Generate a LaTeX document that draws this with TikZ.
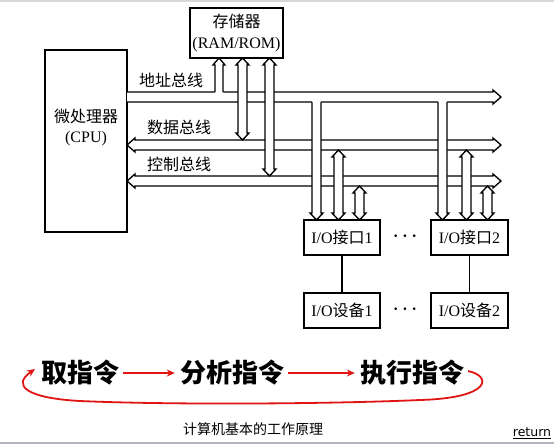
\documentclass[tikz,border=0pt]{standalone}
\usepackage{fontspec}
\setmainfont{Liberation Serif}
\newfontfamily\cjk{Noto Sans CJK SC}
\newfontfamily\retfont{DejaVu Sans}
\usetikzlibrary{arrows.meta}
\definecolor{flowred}{RGB}{225,20,20}
\definecolor{topgray}{RGB}{215,215,215}
\definecolor{botgray}{RGB}{180,180,192}
% vertical double arrow: xl xr ytop ybot
\newcommand\VDarrow[4]{%
  \filldraw[busline] (#1,#3+7) -- (#1-2,#3+7) -- ({(#1+#2)/2},#3) -- (#2+2,#3+7) -- (#2,#3+7)
    -- (#2,#4-7) -- (#2+2,#4-7) -- ({(#1+#2)/2},#4) -- (#1-2,#4-7) -- (#1,#4-7) -- cycle;}
% T arrow up: xl xr ytop ybus ymid
\newcommand\UParrow[5]{%
  \fill[white] (#1,#5) -- (#1,#3+7) -- (#1-2,#3+7) -- ({(#1+#2)/2},#3) -- (#2+2,#3+7) -- (#2,#3+7) -- (#2,#5) -- cycle;
  \draw[busline] (#1,#4) -- (#1,#3+7) -- (#1-2,#3+7) -- ({(#1+#2)/2},#3) -- (#2+2,#3+7) -- (#2,#3+7) -- (#2,#4);}
% T arrow down: xl xr ybus ybot ymid
\newcommand\DNarrow[5]{%
  \fill[white] (#1,#5) -- (#1,#4-7) -- (#1-2,#4-7) -- ({(#1+#2)/2},#4) -- (#2+2,#4-7) -- (#2,#4-7) -- (#2,#5) -- cycle;
  \draw[busline] (#1,#3) -- (#1,#4-7) -- (#1-2,#4-7) -- ({(#1+#2)/2},#4) -- (#2+2,#4-7) -- (#2,#4-7) -- (#2,#3);}
\newcommand\threedots{\textbf{\textperiodcentered}\hspace{4pt}\textbf{\textperiodcentered}\hspace{4pt}\textbf{\textperiodcentered}}
\begin{document}
\begin{tikzpicture}[x=1pt,y=-1pt,
  busline/.style={draw=black,fill=white,line width=1.35pt,line join=miter},
  box/.style={draw=black,line width=1.35pt,inner sep=0pt,fill=white},
  lbl/.style={font=\fontsize{16}{20}\selectfont,inner sep=0pt},
  big/.style={font=\fontsize{26}{30}\selectfont\cjk\bfseries,inner sep=0pt},
  redarrow/.style={draw=flowred,line width=1.8pt,-{Stealth[length=8pt,width=7pt]}}]
\useasboundingbox (0,0) rectangle (554,444);
\fill[white] (0,0) rectangle (554,444);
\fill[topgray] (0,0) rectangle (554,2);
\fill[botgray] (0,441.5) rectangle (554,443.5);

% boxes
\node[box,minimum width=82pt,minimum height=182pt] (cpu) at (86,141) {};
\node[lbl,align=center] (cpulbl) at (86,127) {{\cjk 微处理器}\\(CPU)};
\node[box,minimum width=93pt,minimum height=50pt,align=center,
  font=\fontsize{16}{21}\selectfont] (mem) at (236.5,33) {{\cjk 存储器}\\(RAM/ROM)};

% buses
\filldraw[busline] (127,92) -- (493,92) -- (493,90) -- (501,97) -- (493,104) -- (493,102) -- (127,102);
\filldraw[busline] (135,140) -- (493,140) -- (493,138) -- (501,145) -- (493,152) -- (493,150)
  -- (135,150) -- (135,152) -- (127,145) -- (135,138) -- cycle;
\filldraw[busline] (135,176) -- (493,176) -- (493,174) -- (501,181) -- (493,188) -- (493,186)
  -- (135,186) -- (135,188) -- (127,181) -- (135,174) -- cycle;

\node[lbl] (abus) at (171,80) {\cjk 地址总线};
\node[lbl] (dbus) at (179,127) {\cjk 数据总线};
\node[lbl] (cbus) at (179,164) {\cjk 控制总线};

% memory connections
\VDarrow{238}{247}{58}{140}
\VDarrow{265}{274}{58}{176}
\UParrow{215}{223}{58}{92}{97}

% I/O connections
\DNarrow{312}{321}{102}{220}{97}
\VDarrow{334}{343}{150}{220}
\VDarrow{355}{364}{186}{220}
\DNarrow{438}{447}{102}{220}{97}
\VDarrow{462}{471}{150}{220}
\VDarrow{483}{492}{186}{220}

% I/O boxes
\node[box,minimum width=76pt,minimum height=35pt,lbl] (io1) at (342,237.5) {I/O{\cjk 接口}1};
\node[box,minimum width=77pt,minimum height=35pt,lbl] (io2) at (469.5,237.5) {I/O{\cjk 接口}2};
\node[box,minimum width=76pt,minimum height=35pt,lbl] (dev1) at (342,310.5) {I/O{\cjk 设备}1};
\node[box,minimum width=77pt,minimum height=35pt,lbl] (dev2) at (469.5,310.5) {I/O{\cjk 设备}2};
\draw[line width=1.35pt] (io1) -- (dev1);
\draw[line width=1.35pt] (io2) -- (dev2);
\node[lbl] (dots1) at (405,238) {\threedots};
\node[lbl] (dots2) at (405,311) {\threedots};

% instruction cycle
\node[big] (fetch) at (80,373) {取指令};
\node[big] (decode) at (232,373) {分析指令};
\node[big] (exec) at (412,373) {执行指令};
\draw[redarrow] ([xshift=4pt]fetch.east) -- ([xshift=-5pt]decode.west);
\draw[redarrow] ([xshift=4pt]decode.east) -- ([xshift=-5pt]exec.west);
\coordinate (cs) at (468,371);
\coordinate (ce) at (35,369);
\draw[redarrow] (cs) .. controls (492,376) and (492,398) .. (420,400)
  .. controls (330,404) and (170,405) .. (80,401)
  .. controls (25,398) and (12,385) .. (ce);

\node[font=\fontsize{14}{16}\selectfont\cjk,inner sep=0pt] (cap) at (253,429) {计算机基本的工作原理};
\node[font=\fontsize{12.5}{14}\selectfont\retfont,inner sep=0pt] (ret) at (532,433) {\underline{return}};
\end{tikzpicture}
\end{document}
